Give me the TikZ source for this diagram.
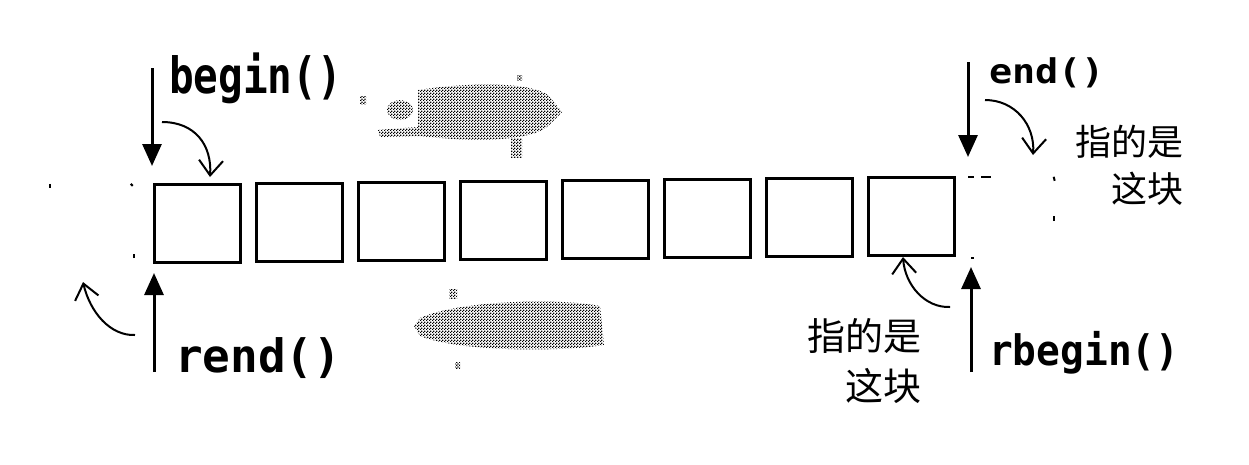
\documentclass[tikz,border=0pt]{standalone}
\usepackage{fontspec}
\usepackage{graphicx}
\newfontfamily\monof{DejaVu Sans Mono}
\newfontfamily\cjk{Noto Sans CJK SC}
\usetikzlibrary{arrows.meta,patterns.meta}
\tikzdeclarepattern{name=dither, type=uncolored,
  bounding box={(0,0) and (3pt,3pt)}, tile size={(3pt,3pt)},
  code={\fill (0,0) rectangle (1.5pt,1.5pt); \fill (1.5pt,1.5pt) rectangle (3pt,3pt);}}
\begin{document}
\begin{tikzpicture}[x=1pt,y=-1pt,
  cell/.style={draw,line width=3pt,minimum width=86pt,minimum height=78pt,inner sep=0pt},
  ghost/.style={draw=none,minimum width=85pt,minimum height=78pt,inner sep=0pt},
  tick/.style={line width=2pt},
  ptr/.style={line width=3pt,-{Triangle[length=22pt,width=19pt]}},
  bendarrow/.style={line width=2pt,-{Straight Barb[length=15pt,width=24pt,line width=2pt]}},
  lbl/.style={inner sep=0pt,anchor=base west},
  cjklbl/.style={inner sep=0pt,anchor=base east},
  blob/.style={pattern=dither,pattern color=black}]
\fill[white] (0,0) rectangle (1249,464);
\useasboundingbox (0,0) rectangle (1249,464);

% cells
\foreach \i in {0,...,7} {
  \node[cell] (b\i) at ({197+102*\i},{223-0.95*\i}) {};
}
% ghost cells (before begin / past end), only faint remnants of their outline
\node[ghost] (g0) at (92,223) {};
\node[ghost] (g9) at (1011,216) {};
\draw[tick] ([xshift=1pt]g0.north west) -- ++(0,4);
\draw[tick] ([xshift=-4pt]g0.north east) -- ++(2,2);
\draw[tick] ([xshift=-1pt,yshift=4pt]g0.south east) -- ++(0,-4);
\draw[tick] (g9.north west) -- ++(6,0);
\draw[tick] ([xshift=13pt]g9.north west) -- ++(10,0);
\draw[tick] (g9.north east) -- ++(1,4);
\draw[tick] ([yshift=-5pt]g9.east) -- ++(0,-5);
\draw[tick] ([xshift=3pt,yshift=-3pt]g9.south west) -- ++(3,0);

% straight pointers
\coordinate (beginTop) at (152,68);  \coordinate (beginTip) at (152,166);
\coordinate (endTop) at (968,62);    \coordinate (endTip) at (968,157);
\coordinate (rendBot) at (154,372);  \coordinate (rendTip) at (154,273);
\coordinate (rbBot) at (971,372);    \coordinate (rbTip) at (971,267);
\draw[ptr] (beginTop) -- (beginTip);
\draw[ptr] (endTop) -- (endTip);
\draw[ptr] (rendBot) -- (rendTip);
\draw[ptr] (rbBot) -- (rbTip);

% curved hints
\coordinate (c1s) at (162,122); \coordinate (c1e) at (210,177);
\coordinate (c2s) at (985,100); \coordinate (c2e) at (1033,155);
\coordinate (c3s) at (135,335); \coordinate (c3e) at (83,282);
\coordinate (c4s) at (950,307); \coordinate (c4e) at (903,257);
\draw[bendarrow] (c1s) .. controls (195,122) and (212,145) .. (c1e);
\draw[bendarrow] (c2s) .. controls (1015,100) and (1035,125) .. (c2e);
\draw[bendarrow] (c3s) .. controls (110,336) and (90,312) .. (c3e);
\draw[bendarrow] (c4s) .. controls (925,308) and (905,285) .. (c4e);

% labels
\node[lbl] (tbegin) at (169,93) {\scalebox{0.82}[1]{\fontsize{50pt}{50pt}\monof\bfseries begin()}};
\node[lbl] (tend) at (989,83) {\scalebox{1.13}[1]{\fontsize{34pt}{34pt}\monof\bfseries end()}};
\node[lbl] (trend) at (175,372) {\scalebox{1.0}[1]{\fontsize{46pt}{46pt}\monof\bfseries rend()}};
\node[lbl] (trbegin) at (989,365) {\scalebox{0.94}[1]{\fontsize{42pt}{42pt}\monof\bfseries rbegin()}};

\node[cjklbl] (ta) at (1184,155) {\fontsize{36pt}{36pt}\cjk 指的是};
\node[cjklbl] (tb) at (1184,202) {\fontsize{36pt}{36pt}\cjk 这块};
\node[cjklbl] (ba) at (922,350) {\fontsize{38pt}{38pt}\cjk 指的是};
\node[cjklbl] (bb) at (922,400) {\fontsize{38pt}{38pt}\cjk 这块};

% dithered smudges
\fill[blob] (418,90) .. controls (470,82) and (530,82) .. (548,95) -- (562,112) -- (548,126)
  .. controls (530,142) and (470,142) .. (420,136) -- (380,137) -- (378,130) -- (418,127) -- cycle;
\fill[blob] (400,110) ellipse [x radius=13, y radius=10];
\fill[blob] (511,138) rectangle (522,157);
\fill[blob] (360,96) rectangle (366,104);
\fill[blob] (517,75) rectangle (522,80);
\fill[blob] (420,318) .. controls (460,300) and (560,298) .. (600,306) -- (604,345)
  .. controls (560,352) and (460,352) .. (420,336) -- (414,326) -- cycle;
\fill[blob] (449,289) rectangle (457,298);
\fill[blob] (455,362) rectangle (460,368);
\end{tikzpicture}
\end{document}
